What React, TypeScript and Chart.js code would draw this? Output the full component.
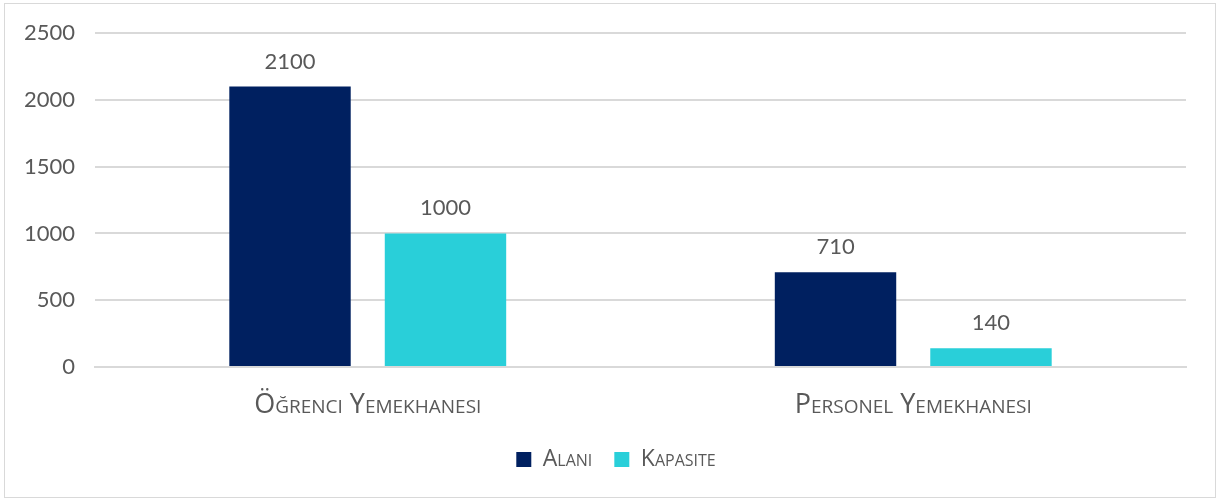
import React, { useEffect, useRef } from "react";
import { Chart, registerables } from "chart.js";

Chart.register(...registerables);

const categories = ["Öğrenci Yemekhanesi", "Personel Yemekhanesi"];
const seriesNames = ["Alanı", "Kapasite"];
const alaniValues = [2100, 710];
const kapasiteValues = [1000, 140];
const yTicks = [0, 500, 1000, 1500, 2000, 2500];

const NAVY = "#002060";
const CYAN = "#29CFD9";
const TEXT = "#595959";
const NUM_FONT = "Lato, 'Open Sans', sans-serif";
const CAPS_FONT = "'Open Sans', Lato, sans-serif";

const dataLabelPlugin = {
  id: "dataLabels",
  afterDatasetsDraw(chart: any) {
    const ctx = chart.ctx;
    ctx.save();
    ctx.fillStyle = TEXT;
    ctx.font = `22px ${NUM_FONT}`;
    ctx.textAlign = "center";
    ctx.textBaseline = "alphabetic";
    chart.data.datasets.forEach((ds: any, i: number) => {
      const meta = chart.getDatasetMeta(i);
      meta.data.forEach((el: any, j: number) => {
        ctx.fillText(String(ds.data[j]), el.x, el.y - 18);
      });
    });
    ctx.restore();
  },
};

const legendShiftPlugin = {
  id: "legendShift",
  afterLayout(chart: any) {
    if (chart.legend) {
      chart.legend.left += 42;
      chart.legend.right += 4;
    }
  },
};

export default function App() {
  const ref = useRef<HTMLCanvasElement>(null);
  useEffect(() => {
    if (!ref.current) return;
    const chart = new Chart(ref.current, {
      type: "bar",
      data: {
        labels: categories,
        datasets: [
          {
            label: seriesNames[0],
            data: alaniValues,
            backgroundColor: NAVY,
            categoryPercentage: 0.57,
            barPercentage: 0.781,
          },
          {
            label: seriesNames[1],
            data: kapasiteValues,
            backgroundColor: CYAN,
            categoryPercentage: 0.57,
            barPercentage: 0.781,
          },
        ],
      },
      options: {
        animation: false,
        responsive: false,
        maintainAspectRatio: false,
        layout: { padding: { left: 0, right: 33, top: 32, bottom: 19 } },
        scales: {
          x: {
            afterFit: (scale: any) => {
              scale.height = 59;
            },
            grid: { display: false, drawTicks: false },
            border: { display: true, color: "#d9d9d9", width: 2 },
            ticks: {
              color: TEXT,
              padding: 22,
              font: { family: CAPS_FONT, size: 27, weight: "small-caps 500" as any },
            },
          },
          y: {
            min: 0,
            max: 2500,
            afterFit: (scale: any) => {
              scale.width = 95;
            },
            afterBuildTicks: (scale: any) => {
              scale.ticks = yTicks.map((v) => ({ value: v }));
            },
            grid: { color: "#d9d9d9", lineWidth: 2, drawTicks: false },
            border: { display: false },
            ticks: {
              color: TEXT,
              padding: 20,
              font: { family: NUM_FONT, size: 22 },
              callback: (v: any) => String(v),
            },
          },
        },
        plugins: {
          legend: {
            position: "bottom",
            labels: {
              color: TEXT,
              boxWidth: 15,
              boxHeight: 15,
              padding: 22,
              font: { family: CAPS_FONT, size: 23, weight: "small-caps 500" as any },
            },
          },
          tooltip: { enabled: false },
        },
      },
      plugins: [dataLabelPlugin, legendShiftPlugin],
    });
    return () => chart.destroy();
  }, []);

  return (
    <div style={{ position: "fixed", left: 0, top: 0, width: 1219, height: 500, background: "#fff" }}>
      <canvas ref={ref} width={1219} height={500} style={{ display: "block", width: 1219, height: 500 }} />
      <div
        style={{
          position: "absolute",
          left: 4,
          top: 3,
          width: 1210,
          height: 493,
          border: "1px solid #d9d9d9",
          pointerEvents: "none",
        }}
      />
    </div>
  );
}
